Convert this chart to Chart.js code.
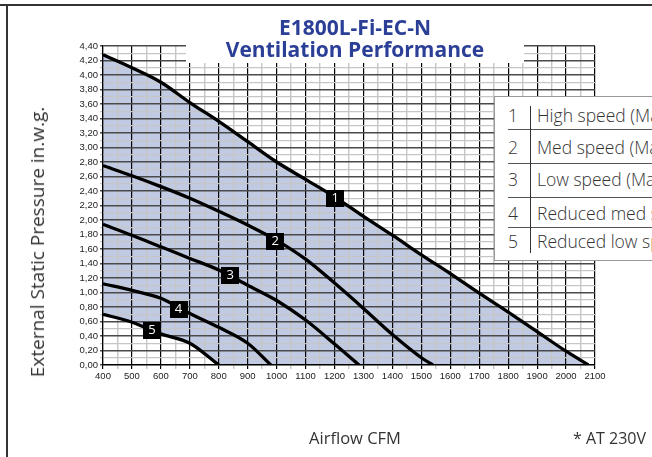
<!DOCTYPE html>
<html>
<head>
<meta charset="utf-8">
<script src="https://cdn.jsdelivr.net/npm/chart.js@4.4.1/dist/chart.umd.min.js"></script>
<style>
  html,body{margin:0;padding:0;background:#fff;}
  #wrap{position:relative;width:652px;height:457px;overflow:hidden;background:#fff;}
  canvas{position:absolute;left:0;top:0;}
  .abs{position:absolute;white-space:nowrap;}
</style>
</head>
<body>
<div id="wrap">
  <canvas id="c" width="652" height="457"></canvas>
  <div class="abs" style="left:0;top:4px;width:652px;height:1.5px;background:#333;"></div>
  <div class="abs" style="left:6px;top:4px;width:1.5px;height:460px;background:#333;"></div>
  <div class="abs" style="left:186px;top:40px;width:338px;height:23px;background:#fff;"></div>
  <div id="title" class="abs" style="left:186px;top:16px;width:338px;text-align:center;font:700 21px 'Open Sans';line-height:22px;color:#2b3f97;"></div>
  <div id="ytitle" class="abs" style="left:37px;top:242px;transform:translate(-50%,-50%) rotate(-90deg);font:19px 'Open Sans';line-height:22px;color:#333;"></div>
  <div id="xtitle" class="abs" style="left:355px;top:428px;transform:translateX(-50%);font:16.5px 'Open Sans';line-height:20px;color:#333;"></div>
  <div id="note" class="abs" style="left:573px;top:428px;font:16px 'Open Sans';line-height:20px;color:#333;"></div>
  <div id="legend" class="abs" style="left:494px;top:96px;width:170px;height:163px;border:1px solid #999;background:#fff;"></div>
</div>
<script>
// ---- chart text ----
const titleLines = ['E1800L-Fi-EC-N', 'Ventilation Performance'];
const xAxisTitle = 'Airflow CFM';
const yAxisTitle = 'External Static Pressure in.w.g.';
const footNote = '* AT 230V';

// ---- legend ----
const legendNumbers = ['1', '2', '3', '4', '5'];
const legendTexts = ['High speed (Max)', 'Med speed (Max)', 'Low speed (Max)', 'Reduced med speed', 'Reduced low speed'];

// ---- curves (x = airflow CFM, y = static pressure in.w.g.) ----
const curve1X = [400, 500, 600, 700, 800, 900, 1000, 1100, 1200, 1300, 1400, 1500, 1600, 1700, 1800, 1900, 2000, 2077];
const curve1Y = [4.28, 4.10, 3.90, 3.62, 3.36, 3.08, 2.80, 2.56, 2.32, 2.05, 1.79, 1.52, 1.26, 0.99, 0.73, 0.46, 0.19, 0];
const curve2X = [400, 500, 600, 700, 800, 900, 1000, 1100, 1200, 1300, 1400, 1500, 1540];
const curve2Y = [2.75, 2.61, 2.46, 2.30, 2.12, 1.93, 1.72, 1.46, 1.13, 0.78, 0.42, 0.10, 0];
const curve3X = [400, 500, 600, 700, 800, 900, 1000, 1100, 1200, 1285];
const curve3Y = [1.94, 1.79, 1.63, 1.47, 1.31, 1.10, 0.89, 0.62, 0.29, 0];
const curve4X = [400, 500, 600, 700, 800, 900, 980];
const curve4Y = [1.12, 1.03, 0.92, 0.71, 0.52, 0.30, 0];
const curve5X = [400, 500, 600, 700, 800];
const curve5Y = [0.70, 0.59, 0.43, 0.30, 0];

// ---- curve number tags ----
const tagNames = ['1', '2', '3', '4', '5'];
const tagX = [1202, 995, 840, 661, 569];
const tagY = [2.30, 1.71, 1.24, 0.77, 0.48];

// ---- axes ----
const xMin = 400, xMax = 2100, xStep = 50;
const yMin = 0, yMax = 4.4, yStep = 0.1;

// ---- overlays ----
document.getElementById('title').innerHTML = titleLines.map(t => '<div>' + t + '</div>').join('');
document.getElementById('ytitle').textContent = yAxisTitle;
document.getElementById('xtitle').textContent = xAxisTitle;
document.getElementById('note').textContent = footNote;

(function buildLegend() {
  const wrap = document.getElementById('wrap');
  const rowCenters = [115, 147, 179, 213, 241];
  const seps = [129, 163, 197, 227];
  rowCenters.forEach((cy, i) => {
    const n = document.createElement('div');
    n.className = 'abs';
    n.style.cssText = 'left:503px;width:20px;text-align:center;top:' + (cy - 11) + 'px;font:300 17.5px "Open Sans";line-height:22px;color:#333;';
    n.textContent = legendNumbers[i];
    wrap.appendChild(n);
    const t = document.createElement('div');
    t.className = 'abs';
    t.style.cssText = 'left:537px;top:' + (cy - 11) + 'px;font:300 17.5px "Open Sans";line-height:22px;color:#333;';
    t.textContent = legendTexts[i];
    wrap.appendChild(t);
  });
  seps.forEach(sy => {
    const s = document.createElement('div');
    s.className = 'abs';
    s.style.cssText = 'left:508px;top:' + sy + 'px;width:150px;height:1px;background:#555;';
    wrap.appendChild(s);
  });
  const v = document.createElement('div');
  v.className = 'abs';
  v.style.cssText = 'left:530px;top:106px;width:1px;height:147px;background:#333;';
  wrap.appendChild(v);
})();

// ---- chart ----
const toPts = (xs, ys) => xs.map((x, i) => ({x: x, y: ys[i]}));
const curveStyle = {borderColor: '#000', borderWidth: 3.3, pointRadius: 0, cubicInterpolationMode: 'monotone', fill: false};

const tagPlugin = {
  id: 'curveTags',
  afterDatasetsDraw(chart) {
    const {ctx, scales: {x, y}} = chart;
    ctx.save();
    tagNames.forEach((t, i) => {
      const px = x.getPixelForValue(tagX[i]);
      const py = y.getPixelForValue(tagY[i]);
      ctx.fillStyle = '#000';
      ctx.fillRect(Math.round(px - 9), Math.round(py - 8.5), 18, 17);
      ctx.fillStyle = '#fff';
      ctx.font = '13px "Open Sans"';
      ctx.textAlign = 'center';
      ctx.textBaseline = 'middle';
      ctx.fillText(t, px, py + 0.5);
    });
    ctx.restore();
  }
};

const isMajorX = v => Math.round(v) % 100 === 0;
const isMajorY = v => Math.round(v * 10) % 2 === 0;

new Chart(document.getElementById('c'), {
  type: 'line',
  data: {
    datasets: [
      Object.assign({label: '5', data: toPts(curve5X, curve5Y)}, curveStyle, {fill: 'origin', backgroundColor: '#ffffff'}),
      Object.assign({label: '4', data: toPts(curve4X, curve4Y)}, curveStyle),
      Object.assign({label: '3', data: toPts(curve3X, curve3Y)}, curveStyle),
      Object.assign({label: '2', data: toPts(curve2X, curve2Y)}, curveStyle),
      Object.assign({label: '1', data: toPts(curve1X, curve1Y)}, curveStyle, {fill: 'origin', backgroundColor: '#c0cae3'})
    ]
  },
  options: {
    responsive: false,
    animation: false,
    devicePixelRatio: 1,
    layout: {padding: {top: 46, right: 57, left: 0, bottom: 0}},
    plugins: {
      legend: {display: false},
      tooltip: {enabled: false},
      title: {display: false},
      filler: {drawTime: 'beforeDraw'}
    },
    scales: {
      x: {
        type: 'linear',
        min: xMin, max: xMax,
        afterFit: s => { s.height = 92; },
        afterBuildTicks: s => {
          const t = [];
          for (let v = xMin; v <= xMax; v += xStep) t.push({value: v});
          s.ticks = t;
        },
        ticks: {
          autoSkip: false, maxRotation: 0, padding: 2,
          font: {family: '"Liberation Sans", Arial', size: 9.5},
          color: '#222',
          callback: v => isMajorX(v) ? String(v) : ''
        },
        grid: {
          tickLength: 4,
          color: c => isMajorX(c.tick.value) ? '#000' : '#c6c6c6',
          lineWidth: c => isMajorX(c.tick.value) ? 1.2 : 1.4
        },
        border: {color: '#000', width: 1.2}
      },
      y: {
        type: 'linear',
        min: yMin, max: yMax,
        afterFit: s => { s.width = 103; },
        afterBuildTicks: s => {
          const t = [];
          for (let k = 0; k <= 44; k++) t.push({value: Math.round(k * yStep * 10) / 10});
          s.ticks = t;
        },
        ticks: {
          autoSkip: false, padding: 2,
          font: {family: '"Liberation Sans", Arial', size: 9.5},
          color: '#222',
          callback: v => isMajorY(v) ? v.toFixed(2).replace('.', ',') : ''
        },
        grid: {
          tickLength: 3,
          color: c => isMajorY(c.tick.value) ? '#4a4a4a' : '#c6c6c6',
          lineWidth: c => isMajorY(c.tick.value) ? 1.5 : 1.2
        },
        border: {color: '#000', width: 1.2}
      }
    }
  },
  plugins: [tagPlugin]
});
</script>
</body>
</html>
